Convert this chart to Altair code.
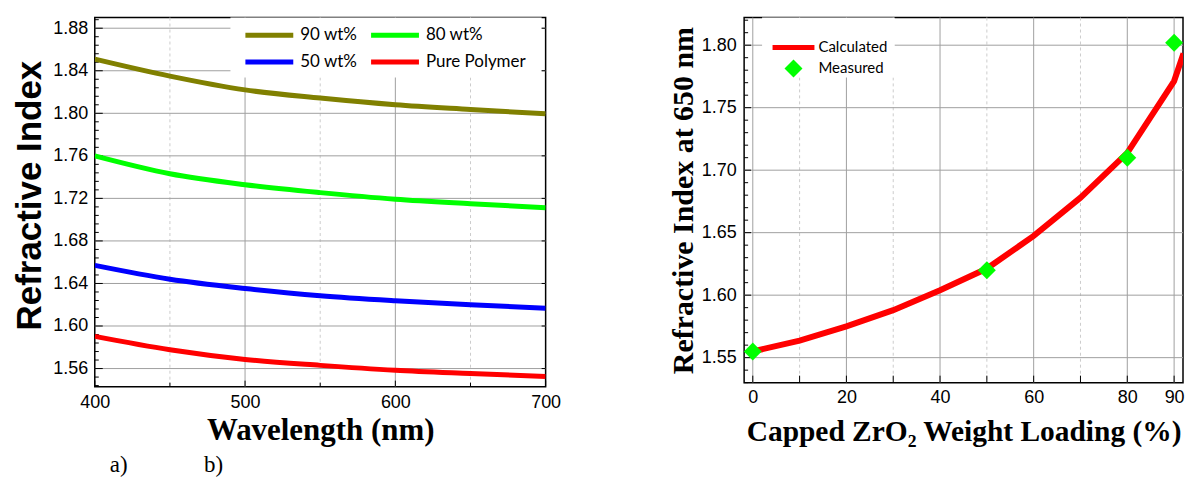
import altair as alt
import pandas as pd

# ---------------- data: panel a (refractive index vs wavelength) ----------------
wavelength = [400, 450, 500, 550, 600, 650, 700]
n_90wt = [1.851, 1.835, 1.822, 1.8143, 1.808, 1.8036, 1.7995]
n_80wt = [1.760, 1.7432, 1.7329, 1.7254, 1.7192, 1.715, 1.7113]
n_50wt = [1.657, 1.644, 1.6353, 1.6284, 1.6237, 1.620, 1.6168]
n_pure = [1.5903, 1.5777, 1.5686, 1.563, 1.5584, 1.5553, 1.5525]
series_names = ["90 wt%", "80 wt%", "50 wt%", "Pure Polymer"]
series_colors = ["#808000", "#00ff00", "#0000ff", "#ff0000"]

# ---------------- data: panel b (index at 650 nm vs loading) ----------------
loading_calc = [0, 10, 20, 30, 40, 50, 60, 70, 80, 90, 92]
n_calc = [1.555, 1.5636, 1.575, 1.588, 1.604, 1.6213, 1.6474, 1.678, 1.7138, 1.7713, 1.7934]
loading_meas = [0, 50, 80, 90]
n_meas = [1.555, 1.620, 1.710, 1.802]

# ---------------- tick / grid positions ----------------
a_x_labels = [400, 500, 600, 700]
a_x_major = [400, 500, 600, 700]
a_x_minor = [450, 550, 650]
a_y_major = [1.56, 1.60, 1.64, 1.68, 1.72, 1.76, 1.80, 1.84, 1.88]
a_y_minor = [round(1.544 + 0.008 * i, 3) for i in range(44)]
a_y_minor = [v for v in a_y_minor if all(abs(v - m) > 1e-6 for m in a_y_major)]

b_x_labels = [0, 20, 40, 60, 80, 90]
b_x_grid_solid = [0, 20, 40, 60, 80, 90]
b_x_grid_dash = [10, 30, 50, 70]
b_x_ticks = [0, 10, 20, 30, 40, 50, 60, 70, 80, 90]
b_y_major = [1.55, 1.60, 1.65, 1.70, 1.75, 1.80]
b_y_minor = [round(1.53 + 0.01 * i, 2) for i in range(30)]
b_y_minor = [v for v in b_y_minor if all(abs(v - m) > 1e-6 for m in b_y_major)]

# ---------------- styling ----------------
LW, LH = 452, 370
RW, RH = 440, 366
GRID_SOLID = "#a0a0a0"
GRID_DASH = "#cccccc"
SANS = "Liberation Sans"
SERIF = "Liberation Serif"
LINE_SYMBOL = "M-2.4,0L2.4,0"

one = pd.DataFrame({"k": [0]})


def vals(v):
    return pd.DataFrame({"v": v})


# ================= panel a =================
xa = alt.Scale(domain=[400, 700], nice=False, zero=False)
ya = alt.Scale(domain=[1.543, 1.890], nice=False, zero=False)
xa_axis = alt.Axis(values=a_x_labels, format="d", title="Wavelength (nm)",
                   ticks=False, domain=False, grid=False, labelFlush=False,
                   labelFont=SANS, labelFontSize=18, labelColor="black", labelPadding=7,
                   titleFont=SERIF, titleFontSize=31, titleFontWeight="bold", titleColor="black",
                   titleBaseline="alphabetic", titleY=53)
ya_axis = alt.Axis(values=a_y_major, format=".2f", title="Refractive Index",
                   ticks=False, domain=False, grid=False, labelFlush=False,
                   labelFont=SANS, labelFontSize=18, labelColor="black", labelPadding=7,
                   titleFont=SANS, titleFontSize=35, titleFontWeight="bold", titleColor="black",
                   titleBaseline="alphabetic", titleX=-54, titleY=178)

XA = lambda f: alt.X(f, type="quantitative", scale=xa, axis=xa_axis)
YA = lambda f: alt.Y(f, type="quantitative", scale=ya, axis=ya_axis)

a_rows = []
for name, series in zip(series_names, [n_90wt, n_80wt, n_50wt, n_pure]):
    for w, n in zip(wavelength, series):
        a_rows.append({"wavelength": w, "n": n, "series": name})
a_df = pd.DataFrame(a_rows)

a_layers = [
    alt.Chart(vals(a_x_minor)).mark_rule(color=GRID_DASH, strokeWidth=1, strokeDash=[3, 3]).encode(x=XA("v")),
    alt.Chart(vals(a_x_major[1:-1])).mark_rule(color=GRID_SOLID, strokeWidth=1).encode(x=XA("v")),
    alt.Chart(vals(a_y_major)).mark_rule(color=GRID_SOLID, strokeWidth=1).encode(y=YA("v")),
    # white box behind legend
    alt.Chart(one).mark_rect(color="white").encode(
        x=alt.value(136), x2=alt.value(448), y=alt.value(0), y2=alt.value(60)),
    # ticks (inward)
    alt.Chart(vals(a_y_major)).mark_rule(color="black", strokeWidth=1).encode(
        y=YA("v"), x=alt.value(0), x2=alt.value(8)),
    alt.Chart(vals(a_y_minor)).mark_rule(color="black", strokeWidth=1).encode(
        y=YA("v"), x=alt.value(0), x2=alt.value(4)),
    alt.Chart(vals(a_y_major)).mark_rule(color="black", strokeWidth=1).encode(
        y=YA("v"), x=alt.value(LW), x2=alt.value(LW - 4)),
    alt.Chart(vals(a_x_major)).mark_rule(color="black", strokeWidth=1).encode(
        x=XA("v"), y=alt.value(LH), y2=alt.value(LH - 6)),
    alt.Chart(vals(a_x_minor)).mark_rule(color="black", strokeWidth=1).encode(
        x=XA("v"), y=alt.value(LH), y2=alt.value(LH - 4)),
    alt.Chart(a_df).mark_line(strokeWidth=5, clip=True, interpolate="monotone").encode(
        x=XA("wavelength"), y=YA("n"),
        color=alt.Color("series:N", sort=series_names,
                        scale=alt.Scale(domain=series_names, range=series_colors),
                        legend=alt.Legend(orient="none", legendX=162.5, legendY=5, columns=2,
                                          direction="horizontal",
                                          title=None, symbolType=LINE_SYMBOL, symbolSize=400,
                                          symbolStrokeWidth=5, labelFont="Lato", labelFontSize=17,
                                          labelColor="black", labelOffset=18.5, columnPadding=3,
                                          rowPadding=4, padding=0)),
        detail="series:N"),
    alt.Chart(one).mark_text(font=SERIF, fontSize=23, color="black").encode(
        x=alt.value(24), y=alt.value(449), text=alt.value("a)")),
    alt.Chart(one).mark_text(font=SERIF, fontSize=23, color="black").encode(
        x=alt.value(119), y=alt.value(449), text=alt.value("b)")),
]
panel_a = alt.layer(*a_layers).properties(width=LW, height=LH)

# ================= panel b =================
xb = alt.Scale(domain=[-1.85, 91.9], nice=False, zero=False)
yb = alt.Scale(domain=[1.530, 1.8221], nice=False, zero=False)
xb_axis = alt.Axis(values=b_x_labels, format="d", title="Capped ZrO₂ Weight Loading (%)",
                   ticks=False, domain=False, grid=False, labelFlush=False,
                   labelFont=SANS, labelFontSize=18, labelColor="black", labelPadding=6,
                   titleFont=SERIF, titleFontSize=29.5, titleFontWeight="bold", titleColor="black",
                   titleBaseline="alphabetic", titleY=58)
yb_axis = alt.Axis(values=b_y_major, format=".2f", title="Refractive Index at 650 nm",
                   ticks=False, domain=False, grid=False, labelFlush=False,
                   labelFont=SANS, labelFontSize=18, labelColor="black", labelPadding=8,
                   titleFont=SERIF, titleFontSize=30, titleFontWeight="bold", titleColor="black",
                   titleBaseline="alphabetic", titleX=-52)

XB = lambda f: alt.X(f, type="quantitative", scale=xb, axis=xb_axis)
YB = lambda f: alt.Y(f, type="quantitative", scale=yb, axis=yb_axis)

calc_df = pd.DataFrame({"loading": loading_calc, "n": n_calc, "kind": "Calculated"})
meas_df = pd.DataFrame({"loading": loading_meas, "n": n_meas, "kind": "Measured"})

b_layers = [
    alt.Chart(vals(b_x_grid_dash)).mark_rule(color=GRID_DASH, strokeWidth=1, strokeDash=[3, 3]).encode(x=XB("v")),
    alt.Chart(vals(b_x_grid_solid)).mark_rule(color=GRID_SOLID, strokeWidth=1).encode(x=XB("v")),
    alt.Chart(vals(b_y_major)).mark_rule(color=GRID_SOLID, strokeWidth=1).encode(y=YB("v")),
    alt.Chart(one).mark_rect(color="white").encode(
        x=alt.value(18), x2=alt.value(151), y=alt.value(0), y2=alt.value(60)),
    alt.Chart(vals(b_y_major)).mark_rule(color="black", strokeWidth=1).encode(
        y=YB("v"), x=alt.value(0), x2=alt.value(7)),
    alt.Chart(vals(b_y_minor)).mark_rule(color="black", strokeWidth=1).encode(
        y=YB("v"), x=alt.value(0), x2=alt.value(4)),
    alt.Chart(vals(b_x_ticks)).mark_rule(color="black", strokeWidth=1).encode(
        x=XB("v"), y=alt.value(RH), y2=alt.value(RH - 7)),
    alt.Chart(calc_df).mark_line(strokeWidth=6, clip=True).encode(
        x=XB("loading"), y=YB("n"),
        color=alt.Color("kind:N", scale=alt.Scale(domain=["Calculated"], range=["#ff0000"]),
                        legend=alt.Legend(orient="none", legendX=26, legendY=6.5, title=None,
                                          symbolType="stroke", symbolSize=1764, symbolStrokeWidth=5,
                                          labelFont="Lato", labelFontSize=15, labelColor="black",
                                          labelOffset=1.5, padding=0))),
    alt.Chart(meas_df).mark_point(shape="diamond", filled=True, size=324, opacity=1, strokeWidth=0).encode(
        x=XB("loading"), y=YB("n"),
        fill=alt.Fill("kind:N", scale=alt.Scale(domain=["Measured"], range=["#00ff00"]),
                      legend=alt.Legend(orient="none", legendX=40.5, legendY=42, title=None,
                                        symbolType="diamond", symbolSize=324, symbolStrokeWidth=0,
                                        labelFont="Lato", labelFontSize=15, labelColor="black",
                                        labelOffset=16, padding=0))),
]
panel_b = alt.layer(*b_layers).properties(width=RW, height=RH)

chart = alt.hconcat(panel_a, panel_b, spacing=106).resolve_scale(
    x="independent", y="independent", color="independent", fill="independent"
).properties(
    padding={"left": 4, "top": 7, "right": 0, "bottom": 0}
).configure_view(stroke="black", strokeWidth=1.5)

chart.save("out.html", embed_options={"renderer": "svg", "actions": False})
